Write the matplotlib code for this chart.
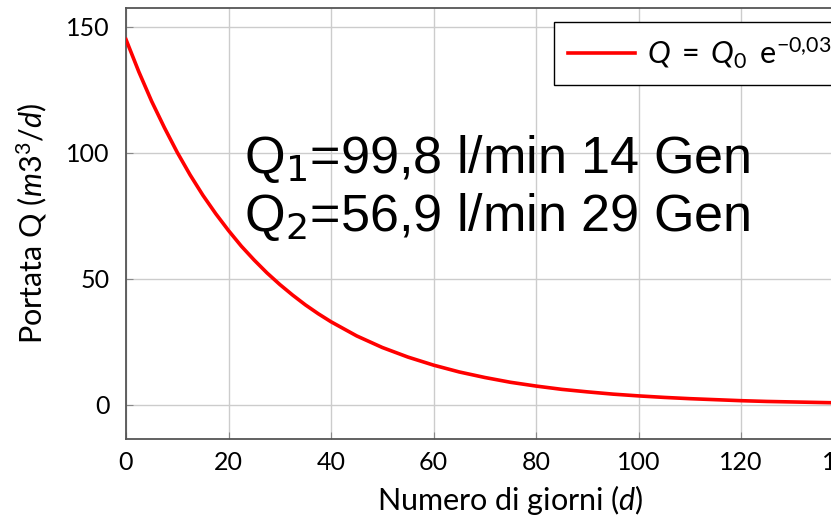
import matplotlib
matplotlib.use("Agg")
import matplotlib.pyplot as plt
from matplotlib.font_manager import FontProperties

# giorni e portata
giorni = [0, 2.5, 5, 7.5, 10, 12.5, 15, 17.5, 20, 22.5, 25, 27.5, 30, 32.5,
          35, 37.5, 40, 45, 50, 55, 60, 65, 70, 75, 80, 85, 90, 95, 100, 105,
          110, 115, 120, 125, 130, 135, 140, 145, 150]
portata = [145, 132.2, 120.5, 110, 100.2, 91.3, 83.2, 75.9, 69.2, 63, 57.5, 52.4,
           47.8, 43.6, 39.7, 36.2, 33, 27.4, 22.8, 19, 15.8, 13.1, 10.9, 9,
           7.5, 6.2, 5.2, 4.3, 3.6, 3.0, 2.5, 2.1, 1.7, 1.4, 1.2, 1.0, 0.8,
           0.7, 0.55]

xticks = [0, 20, 40, 60, 80, 100, 120, 140]
yticks = [0, 50, 100, 150]
etichetta = r"$Q\;=\;Q_0\;\;\mathrm{e}^{-0{,}037\,t}$"
note = ["Q$_1$=99,8 l/min 14 Gen", "Q$_2$=56,9 l/min 29 Gen"]

plt.rcParams["font.family"] = "Lato"
plt.rcParams["mathtext.fontset"] = "custom"
plt.rcParams["mathtext.rm"] = "Lato"
plt.rcParams["mathtext.it"] = "Lato:italic"

fig = plt.figure(figsize=(8.31, 5.30), dpi=100)
ax = fig.add_axes([126 / 831, 91 / 530, (895 - 126) / 831, 431 / 530])

ax.plot(giorni, portata, color="#ff0000", lw=2.6, label=etichetta, zorder=3)

ax.set_xlim(0, 150)
ax.set_ylim(-13.5, 157.5)
ax.set_xticks(xticks)
ax.set_yticks(yticks)
ax.grid(True, color="#cccccc", lw=1)
ax.tick_params(direction="in", length=5, color="#888888", labelsize=18)
ax.tick_params(axis="x", pad=9)
ax.tick_params(axis="y", pad=12)
for s in ax.spines.values():
    s.set_color("#555555")
    s.set_linewidth(1.3)

ax.set_xlabel(r"Numero di giorni ($d$)", fontsize=22, labelpad=6)
ax.set_ylabel(r"Portata Q ($m3^3/d$)", fontsize=22, labelpad=12)

leg = ax.legend(loc="upper right", bbox_to_anchor=(0.966, 0.9675), borderaxespad=0,
                fancybox=False, framealpha=1, edgecolor="black", handlelength=2.2,
                handletextpad=0.4, borderpad=0.45,
                prop=FontProperties(family="Lato", size=22))
leg.get_frame().set_linewidth(1.0)

for i, riga in enumerate(note):
    ax.text(244 / 831, (530 - 173 - 58 * i) / 530, riga, transform=fig.transFigure,
            fontsize=37.5, family="Liberation Sans", math_fontfamily="dejavusans",
            color="black", zorder=4)

fig.savefig("out.png", dpi=100)
